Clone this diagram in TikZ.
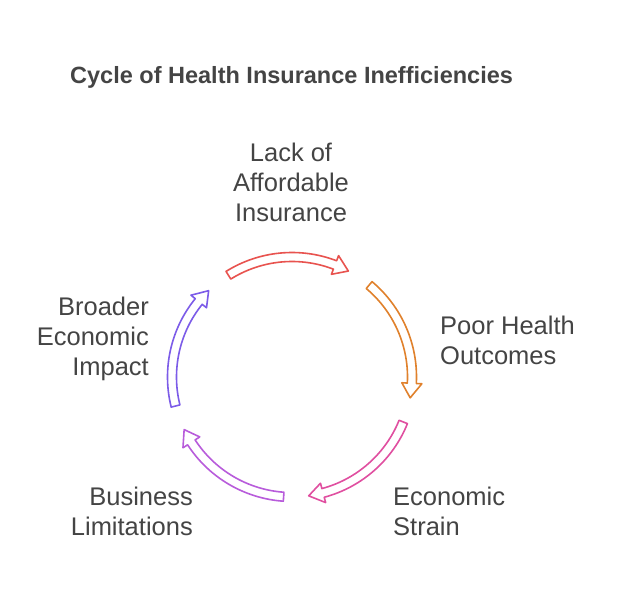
\documentclass[tikz,border=0pt]{standalone}
\usepackage{fontspec}
\setmainfont{Liberation Sans}
\usetikzlibrary{positioning,calc}
\definecolor{txt}{HTML}{444444}
\definecolor{cA}{HTML}{E8534F}
\definecolor{cB}{HTML}{E0812C}
\definecolor{cC}{HTML}{E04FA0}
\definecolor{cD}{HTML}{B85CDB}
\definecolor{cE}{HTML}{7C5CE8}
\tikzset{
  lbl/.style={text=txt, font=\fontsize{25.5}{30}\selectfont, align=#1},
}
\begin{document}
\begin{tikzpicture}[x=1pt,y=1pt]
        \useasboundingbox (0,0) rectangle (618,603);
        % Title
        \node[anchor=west, text=txt, font=\fontsize{23.5}{26}\selectfont\bfseries, inner sep=0pt] (title) at (70,526) {Cycle of Health Insurance Inefficiencies};
        % Cycle arrows
        \coordinate (c) at (292,226);
        \foreach \a/\col in {122/cA, 50/cB, -22/cC, -94/cD, -166/cE} {
          \pgfmathsetmacro{\b}{\a-60}
          \pgfmathsetmacro{\h}{\a-53}
          \draw[\col, line width=1.6pt, fill=white, line join=round]
            ($(c)+(\a:124.5)$) arc[start angle=\a, end angle=\h, radius=124.5]
            -- ($(c)+(\h:130)$) -- ($(c)+(\b:120)$) -- ($(c)+(\h:110)$)
            -- ($(c)+(\h:115.5)$) arc[start angle=\h, end angle=\a, radius=115.5] -- cycle;
        }
        % Labels
        \node[lbl=center] (lack) at (291,421) {Lack of\\Affordable\\Insurance};
        \node[lbl=left, anchor=west, inner sep=0pt] (poor) at (440,263) {Poor Health\\Outcomes};
        \node[lbl=left, anchor=west, inner sep=0pt] (strain) at (393,92) {Economic\\Strain};
        \node[lbl=right, anchor=east, inner sep=0pt] (biz) at (193,92) {Business\\Limitations};
        \node[lbl=right, anchor=east, inner sep=0pt] (broad) at (149,264) {Broader\\Economic\\Impact};
\end{tikzpicture}
\end{document}
